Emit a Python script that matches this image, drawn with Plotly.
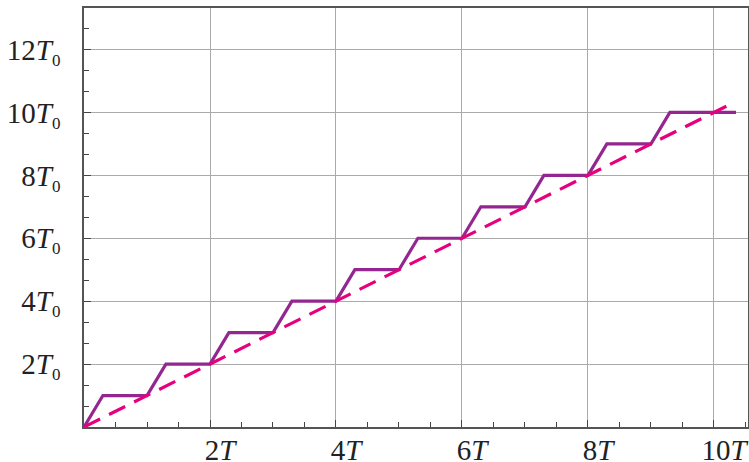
import plotly.graph_objects as go

# Staircase: output level vs. time (in units of T / T0)
stair_t = [0, 0.3, 1, 1.3, 2, 2.3, 3, 3.3, 4, 4.3, 5, 5.3, 6, 6.3, 7, 7.3,
           8, 8.3, 9, 9.3, 10.35]
stair_level = [0, 1, 1, 2, 2, 3, 3, 4, 4, 5, 5, 6, 6, 7, 7, 8, 8, 9, 9, 10, 10]

# Ideal linear reference
ideal_t = [0, 10.2]
ideal_level = [0, 10.2]

x_ticks = [2, 4, 6, 8, 10]
x_labels = ["2<i>T</i>", "4<i>T</i>", "6<i>T</i>", "8<i>T</i>", "10<i>T</i>"]
y_ticks = [2, 4, 6, 8, 10, 12]
sub0 = "<sub><span style='font-size:17px'>0</span></sub>"
y_labels = [f"{v}<i>T</i>{sub0}" for v in y_ticks]

fig = go.Figure()
fig.add_trace(go.Scatter(x=stair_t, y=stair_level, mode="lines",
                         line=dict(color="#93278f", width=3.2),
                         showlegend=False, cliponaxis=False))
fig.add_trace(go.Scatter(x=ideal_t, y=ideal_level, mode="lines",
                         line=dict(color="#e6007e", width=3.2, dash="18px,10px"),
                         showlegend=False, cliponaxis=False))

axis_font = dict(family="Liberation Serif, Times New Roman, serif", size=29, color="#222222")

fig.update_layout(
    width=749, height=462,
    margin=dict(l=84, r=1, t=8, b=35, autoexpand=False),
    paper_bgcolor="white", plot_bgcolor="white",
    xaxis=dict(range=[0, 10.54], tickmode="array", tickvals=x_ticks, ticktext=x_labels,
               automargin=False,
               showgrid=True, gridcolor="#aaaaaa", gridwidth=1, zeroline=False,
               showline=True, linecolor="#555555", linewidth=1.5, mirror=True,
               ticks="inside", ticklen=7, tickcolor="#444444", tickfont=axis_font,
               ticklabelshift=10, ticklabelstandoff=-4,
               minor=dict(tick0=0, dtick=0.5, ticks="inside", ticklen=5,
                          tickcolor="#444444", showgrid=False)),
    yaxis=dict(range=[0, 13.32], tickmode="array", tickvals=y_ticks, ticktext=y_labels,
               automargin=False,
               showgrid=True, gridcolor="#aaaaaa", gridwidth=1, zeroline=False,
               showline=True, linecolor="#555555", linewidth=1.5, mirror=True,
               ticks="inside", ticklen=7, tickcolor="#444444", tickfont=axis_font,
               ticklabelstandoff=16,
               minor=dict(tick0=0, dtick=2 / 3, ticks="inside", ticklen=5,
                          tickcolor="#444444", showgrid=False)),
)

fig.write_html("out.html")
